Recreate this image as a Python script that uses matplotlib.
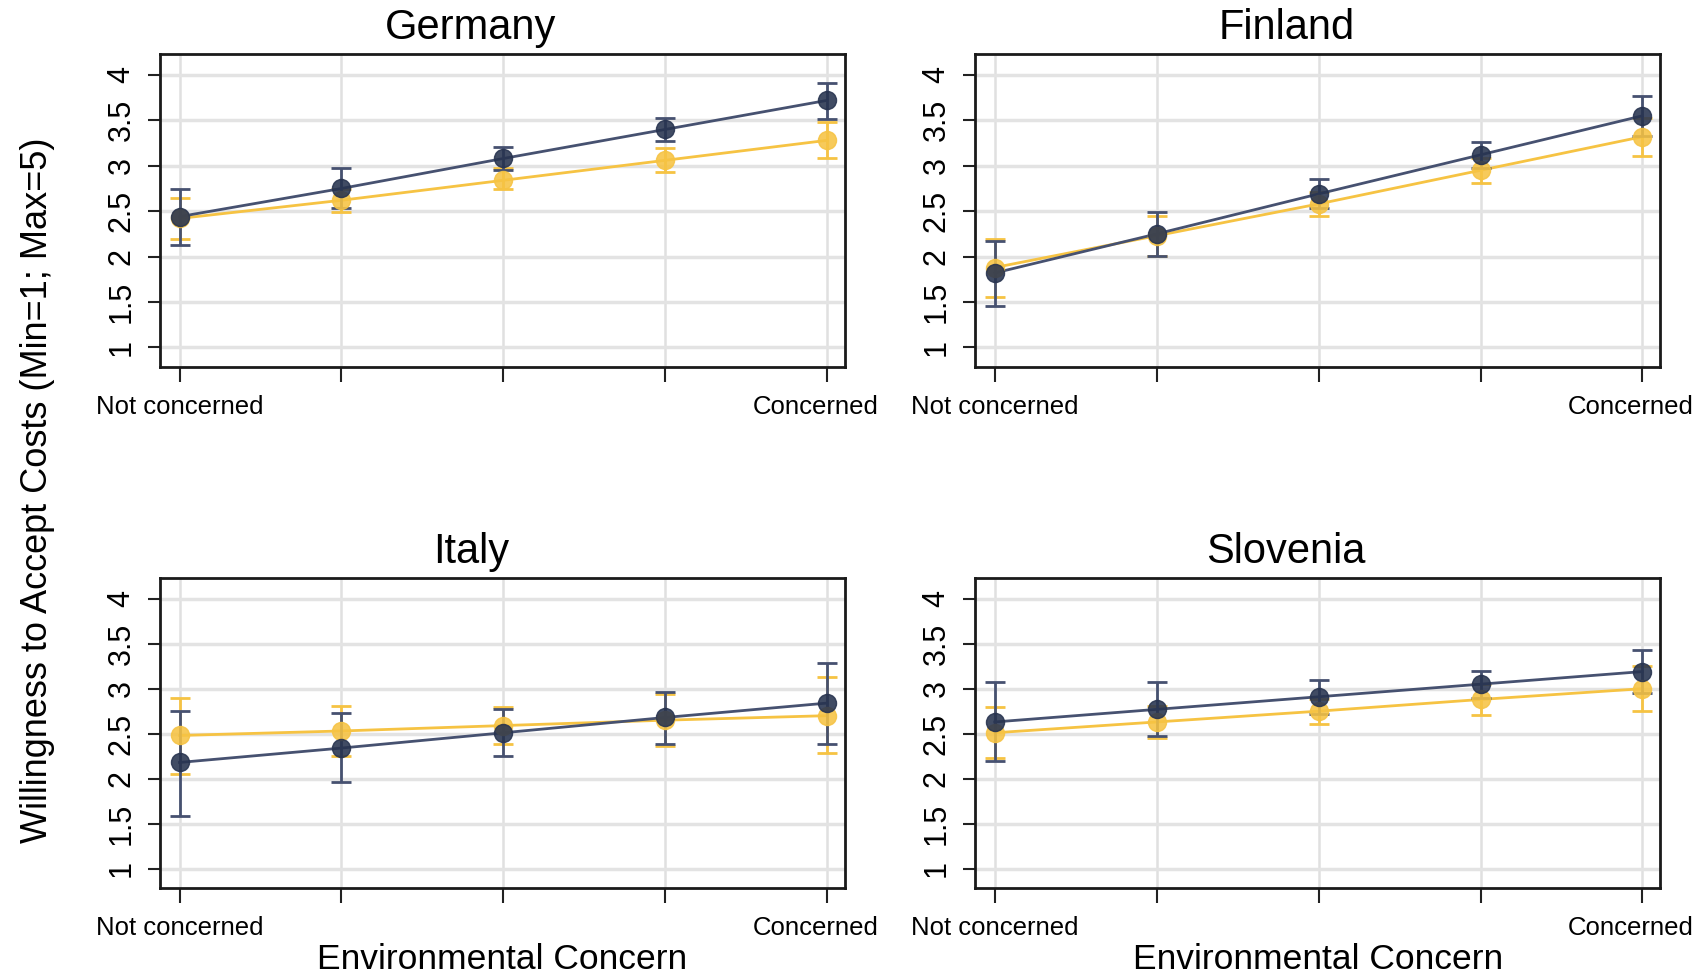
import numpy as np
import matplotlib.pyplot as plt
from matplotlib.transforms import ScaledTranslation

plt.rcParams['font.family'] = ['Liberation Sans', 'DejaVu Sans']

# concern levels 1..5, only the ends get a label
levels = [1, 2, 3, 4, 5]
level_labels = ['Not concerned', '', '', '', 'Concerned']
countries = ['Germany', 'Finland', 'Italy', 'Slovenia']

# navy series: point estimate, lower and upper bound of the CI
de_navy = [2.44, 2.75, 3.08, 3.40, 3.72]
de_navy_lo = [2.13, 2.53, 2.95, 3.27, 3.52]
de_navy_hi = [2.74, 2.97, 3.21, 3.53, 3.91]
fi_navy = [1.82, 2.25, 2.69, 3.12, 3.55]
fi_navy_lo = [1.46, 2.01, 2.53, 2.98, 3.33]
fi_navy_hi = [2.17, 2.49, 2.85, 3.26, 3.77]
it_navy = [2.18, 2.34, 2.51, 2.68, 2.84]
it_navy_lo = [1.59, 1.96, 2.25, 2.38, 2.39]
it_navy_hi = [2.75, 2.73, 2.77, 2.96, 3.29]
si_navy = [2.63, 2.77, 2.91, 3.05, 3.19]
si_navy_lo = [2.20, 2.47, 2.72, 2.90, 2.95]
si_navy_hi = [3.07, 3.07, 3.10, 3.20, 3.43]

# gold series
de_gold = [2.42, 2.62, 2.84, 3.06, 3.28]
de_gold_lo = [2.19, 2.49, 2.74, 2.93, 3.09]
de_gold_hi = [2.65, 2.74, 2.97, 3.20, 3.48]
fi_gold = [1.88, 2.23, 2.58, 2.95, 3.32]
fi_gold_lo = [1.56, 2.01, 2.45, 2.81, 3.11]
fi_gold_hi = [2.19, 2.45, 2.71, 3.09, 3.53]
it_gold = [2.48, 2.53, 2.59, 2.65, 2.70]
it_gold_lo = [2.05, 2.25, 2.38, 2.36, 2.28]
it_gold_hi = [2.90, 2.81, 2.80, 2.94, 3.13]
si_gold = [2.51, 2.63, 2.75, 2.88, 3.00]
si_gold_lo = [2.23, 2.45, 2.61, 2.71, 2.75]
si_gold_hi = [2.80, 2.81, 2.89, 3.05, 3.25]

navy = [de_navy, fi_navy, it_navy, si_navy]
navy_lo = [de_navy_lo, fi_navy_lo, it_navy_lo, si_navy_lo]
navy_hi = [de_navy_hi, fi_navy_hi, it_navy_hi, si_navy_hi]
gold = [de_gold, fi_gold, it_gold, si_gold]
gold_lo = [de_gold_lo, fi_gold_lo, it_gold_lo, si_gold_lo]
gold_hi = [de_gold_hi, fi_gold_hi, it_gold_hi, si_gold_hi]

yticks = [1, 1.5, 2, 2.5, 3, 3.5, 4]
ytick_labels = ['1', '1.5', '2', '2.5', '3', '3.5', '4']

NAVY = '#27334f'
NAVY_LINE = '#465170'
GOLD = '#f6c343'

fig = plt.figure(figsize=(17.03, 9.8), dpi=100)

# axes boxes (left, bottom, width, height) in figure fractions
boxes = [
    [0.0940, 0.6255, 0.4022, 0.3194],
    [0.5727, 0.6255, 0.4022, 0.3194],
    [0.0940, 0.0939, 0.4022, 0.3163],
    [0.5727, 0.0939, 0.4022, 0.3163],
]


def draw_series(ax, mean, lo, hi, col, line_col):
    x = np.array(levels)
    mean = np.array(mean)
    err = [mean - np.array(lo), np.array(hi) - mean]
    ax.plot(x, mean, '-', color=line_col, lw=2.0, zorder=3)
    ax.errorbar(x, mean, yerr=err, fmt='none', ecolor=line_col,
                elinewidth=2.0, capsize=7, capthick=2.0, zorder=3)
    ax.plot(x, mean, 'o', color=col, ms=13, alpha=0.88, mec=col, zorder=4)


for i, name in enumerate(countries):
    ax = fig.add_axes(boxes[i])
    draw_series(ax, gold[i], gold_lo[i], gold_hi[i], GOLD, GOLD)
    draw_series(ax, navy[i], navy_lo[i], navy_hi[i], NAVY, NAVY_LINE)

    ax.set_xlim(0.88, 5.11)
    ax.set_ylim(0.785, 4.23)
    ax.set_xticks(levels)
    ax.set_xticklabels(level_labels, fontsize=18.5)
    ax.set_yticks(yticks)
    ax.set_yticklabels(ytick_labels, fontsize=22, rotation=90, va='center')
    ax.tick_params(axis='x', length=11, width=1.5, pad=9, color='#222222')
    ax.tick_params(axis='y', length=9, width=1.5, pad=8, color='#222222')

    # the right-hand label sits a little left of its tick
    last = ax.xaxis.get_major_ticks()[-1].label1
    last.set_transform(last.get_transform() +
                       ScaledTranslation(-0.12, 0, fig.dpi_scale_trans))

    ax.grid(True, axis='y', color='#e3e3e3', lw=2.5, zorder=0)
    ax.grid(True, axis='x', color='#e0e0e0', lw=1.8, zorder=0)
    ax.set_axisbelow(True)
    for sp in ax.spines.values():
        sp.set_linewidth(2.0)
        sp.set_color('#1a1a1a')

    ax.set_title(name, fontsize=30, pad=11, x=0.454)
    if i >= 2:
        ax.set_xlabel('Environmental Concern', fontsize=25.5, labelpad=2)

fig.text(0.022, 0.5, 'Willingness to Accept Costs (Min=1; Max=5)',
         rotation=90, fontsize=26, ha='center', va='center')

fig.savefig('out.png', dpi=100)
